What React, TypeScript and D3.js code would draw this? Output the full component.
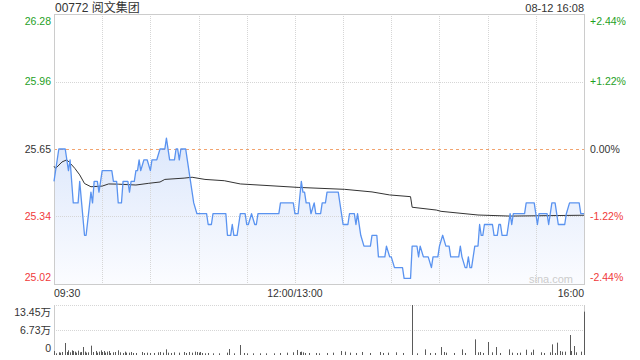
import React from 'react';
import * as d3 from 'd3';

const title = '00772 阅文集团';
const stamp = '08-12 16:08';
const prevClose = 25.65;
const tickPct = [2.44, 1.22, 0, -1.22, -2.44];
const priceTickLabels = ['26.28', '25.96', '25.65', '25.34', '25.02'];
const pctTickLabels = ['+2.44%', '+1.22%', '0.00%', '-1.22%', '-2.44%'];
const timeLabels = ['09:30', '12:00/13:00', '16:00'];
const timeLabelMinutes = [0, 150, 330];
const volTickValues = [13.45, 6.73, 0];
const volTickLabels = ['13.45万', '6.73万', '0'];
const watermark = 'sina.com';

// [trading minute since 09:30, price]
const priceSeries: [number, number][] = [
  [0, 25.5], [3, 25.65], [7, 25.65], [9, 25.55], [10, 25.6], [12, 25.4], [15, 25.4], [16, 25.5],
  [19, 25.25], [20, 25.25], [23, 25.45], [24, 25.4], [25, 25.5], [27, 25.5], [28, 25.45], [29, 25.5],
  [30, 25.55], [36, 25.55], [37, 25.5], [39, 25.5], [40, 25.4], [42, 25.4], [43, 25.5], [46, 25.5],
  [47, 25.45], [48, 25.5], [50, 25.5], [51, 25.55], [52, 25.55], [53, 25.6], [54, 25.55], [56, 25.6],
  [58, 25.6], [60, 25.55], [61, 25.6], [64, 25.6], [66, 25.65], [69, 25.65], [70, 25.7], [72, 25.6],
  [75, 25.6], [76, 25.65], [77, 25.65], [78, 25.6], [79, 25.65], [82, 25.65], [83, 25.6], [85, 25.5],
  [87, 25.4], [89, 25.35], [95, 25.35], [96, 25.3], [98, 25.3], [99, 25.35], [107, 25.35], [108, 25.25],
  [110, 25.25], [111, 25.3], [112, 25.25], [114, 25.25], [115, 25.3], [116, 25.35], [119, 25.35], [120, 25.3],
  [121, 25.3], [123, 25.35], [125, 25.3], [126, 25.3], [127, 25.35], [140, 25.35], [141, 25.4], [149, 25.4],
  [150, 25.35], [152, 25.35], [154, 25.5], [155, 25.45], [156, 25.45], [157, 25.4], [159, 25.4], [160, 25.35],
  [162, 25.4], [163, 25.35], [166, 25.35], [167, 25.4], [169, 25.4], [170, 25.45], [177, 25.45], [179, 25.35],
  [180, 25.3], [183, 25.3], [184, 25.35], [187, 25.35], [188, 25.3], [189, 25.35], [191, 25.25], [193, 25.2],
  [197, 25.2], [198, 25.25], [201, 25.25], [202, 25.15], [206, 25.15], [207, 25.2], [209, 25.15], [210, 25.15],
  [212, 25.1], [217, 25.1], [218, 25.05], [222, 25.05], [223, 25.2], [226, 25.2], [227, 25.15], [228, 25.2],
  [230, 25.15], [233, 25.15], [235, 25.1], [236, 25.15], [239, 25.15], [240, 25.2], [242, 25.25], [244, 25.2],
  [246, 25.2], [247, 25.15], [252, 25.15], [253, 25.2], [254, 25.15], [256, 25.1], [257, 25.1], [258, 25.15],
  [259, 25.1], [260, 25.1], [262, 25.2], [264, 25.2], [265, 25.3], [266, 25.25], [267, 25.25], [268, 25.3],
  [273, 25.3], [274, 25.25], [276, 25.25], [277, 25.3], [278, 25.3], [279, 25.25], [282, 25.25], [283, 25.3],
  [284, 25.35], [285, 25.3], [286, 25.35], [293, 25.35], [294, 25.4], [299, 25.4], [300, 25.35], [301, 25.3],
  [302, 25.35], [307, 25.35], [308, 25.3], [310, 25.4], [312, 25.4], [313, 25.35], [314, 25.3], [318, 25.3],
  [319, 25.35], [321, 25.4], [327, 25.4], [328, 25.35], [330, 25.35],
];

// [minute, average price]
const avgSeries: [number, number][] = [
  [0, 25.57], [1, 25.56], [5, 25.59], [8, 25.6], [10, 25.585], [13, 25.56], [16, 25.53], [19, 25.49],
  [23, 25.475], [30, 25.478], [34, 25.488], [40, 25.487], [51, 25.483], [59, 25.491], [66, 25.497],
  [69, 25.509], [81, 25.515], [86, 25.519], [94, 25.509], [106, 25.503], [116, 25.488], [132, 25.481],
  [152, 25.472], [181, 25.463], [198, 25.451], [209, 25.437], [222, 25.429], [223, 25.38], [238, 25.367],
  [241, 25.361], [264, 25.344], [284, 25.339], [330, 25.343],
];

// [minute, volume in 万]
const volumeSeries: [number, number][] = [
  [0, 1.08], [1, 0.45], [3, 0.72], [4, 0.63], [5, 0.81], [7, 3.23], [8, 0.81], [9, 1.26], [10, 0.72],
  [11, 1.26], [12, 1.08], [13, 0.9], [14, 0.63], [15, 1.17], [16, 0.72], [17, 0.81], [18, 2.15], [19, 0.9],
  [20, 0.63], [21, 0.72], [23, 2.51], [24, 0.81], [26, 1.08], [27, 0.63], [28, 0.9], [29, 1.26], [30, 0.81],
  [31, 1.08], [32, 0.63], [33, 0.9], [34, 1.08], [35, 0.54], [37, 0.72], [38, 0.81], [40, 1.26], [41, 0.72],
  [43, 0.54], [44, 0.9], [45, 0.63], [47, 0.63], [48, 0.81], [49, 0.54], [51, 0.54], [55, 0.81], [56, 0.54],
  [58, 0.63], [60, 0.54], [62, 0.54], [65, 0.72], [66, 0.81], [68, 0.63], [70, 1.52], [71, 0.63], [73, 0.54],
  [75, 0.72], [78, 0.63], [81, 0.81], [82, 0.54], [84, 0.81], [86, 0.63], [88, 0.9], [89, 0.81], [90, 0.63],
  [91, 0.81], [92, 0.54], [94, 0.45], [96, 0.54], [99, 0.45], [103, 0.45], [108, 0.63], [109, 1.61],
  [112, 0.45], [116, 2.69], [118, 0.54], [120, 0.45], [124, 0.45], [128, 0.45], [132, 0.45], [137, 0.45],
  [141, 0.54], [145, 0.63], [149, 0.72], [151, 1.35], [153, 0.81], [154, 0.9], [155, 0.72], [156, 0.54],
  [159, 0.54], [163, 0.54], [165, 0.45], [170, 0.54], [174, 0.63], [179, 1.08], [181, 0.9], [184, 0.63],
  [188, 0.54], [192, 0.81], [197, 0.54], [203, 0.81], [205, 0.54], [208, 0.63], [213, 0.72], [217, 0.54],
  [223, 13.45], [226, 0.45], [231, 1.52], [234, 0.54], [237, 0.54], [241, 2.15], [243, 0.81], [244, 0.63],
  [249, 0.54], [254, 1.52], [256, 0.54], [262, 4.21], [264, 0.72], [265, 0.81], [267, 0.54], [270, 3.5],
  [273, 0.72], [275, 2.15], [278, 0.54], [283, 1.52], [285, 0.63], [288, 0.54], [290, 0.63], [294, 1.43],
  [297, 0.72], [298, 1.43], [303, 0.72], [305, 0.54], [309, 0.72], [310, 2.87], [312, 0.54], [313, 3.32],
  [315, 1.08], [316, 0.9], [318, 0.9], [321, 5.38], [322, 1.08], [324, 2.42], [325, 0.72], [328, 0.9],
  [330, 11.66],
];

const W = 640;
const H = 360;
const L = 54;
const R = 584;
const T = 14;
const B = 284;
const VT = 305;
const VB = 355;
const TOTAL_MIN = 330;
const FONT = "'Liberation Sans', Arial, 'Noto Sans CJK SC', sans-serif";
const GREEN = '#1f9f1f';
const RED = '#f03a3a';
const DARK = '#333333';
const GRID = '#d6d6d6';

const crisp = (v: number) => Math.round(v) + 0.5;

export default function App() {
  const x = d3.scaleLinear().domain([0, TOTAL_MIN]).range([L, R]);
  const pctMax = tickPct[0] / 100;
  const y = d3
    .scaleLinear()
    .domain([prevClose * (1 - pctMax), prevClose * (1 + pctMax)])
    .range([B, T]);
  const yv = d3.scaleLinear().domain([0, volTickValues[0]]).range([VB, VT]);

  const line = d3
    .line<[number, number]>()
    .x((d) => x(d[0]))
    .y((d) => y(d[1]));
  const area = d3
    .area<[number, number]>()
    .x((d) => x(d[0]))
    .y0(B)
    .y1((d) => y(d[1]));

  const gridMinutes = d3.range(30, TOTAL_MIN, 30);
  const colorFor = (p: number) => (p > 0 ? GREEN : p < 0 ? RED : DARK);
  const labelY = (i: number, n: number, yy: number) =>
    i === 0 ? yy + 6.7 : i === n - 1 ? yy - 6.7 : yy;

  return (
    <svg
      width={W}
      height={H}
      viewBox={`0 0 ${W} ${H}`}
      style={{ position: 'absolute', left: 0, top: 0, background: '#fff' }}
      fontFamily={FONT}
    >
      <defs>
        <linearGradient id="pf" x1="0" y1="0" x2="0" y2="1" gradientUnits="objectBoundingBox">
          <stop offset="0%" stopColor="#dce7fb" />
          <stop offset="100%" stopColor="#fbfcff" />
        </linearGradient>
      </defs>

      {/* header */}
      <text x={55} y={12} fontSize={12} fill={DARK}>
        {title}
      </text>
      <text x={R} y={12} fontSize={11} fill={DARK} textAnchor="end">
        {stamp}
      </text>

      {/* price area fill */}
      <path d={area(priceSeries) || ''} fill="url(#pf)" stroke="none" />

      {/* vertical grid */}
      {gridMinutes.map((m) => (
        <line
          key={'vg' + m}
          x1={crisp(x(m))}
          x2={crisp(x(m))}
          y1={T}
          y2={B}
          stroke={GRID}
          strokeDasharray="1,1"
        />
      ))}
      {/* horizontal grid */}
      {tickPct.map((p, i) => {
        if (i === 0 || i === tickPct.length - 1) return null;
        const yy = crisp(y(prevClose * (1 + p / 100)));
        return p === 0 ? (
          <line key={'hg' + i} x1={L} x2={R} y1={yy} y2={yy} stroke="#f2a470" strokeDasharray="3,3" />
        ) : (
          <line key={'hg' + i} x1={L} x2={R} y1={yy} y2={yy} stroke={GRID} strokeDasharray="1,1" />
        );
      })}

      {/* borders */}
      <rect x={crisp(L)} y={crisp(T)} width={R - L} height={B - T} fill="none" stroke="#cccccc" />

      {/* avg line */}
      <path d={line(avgSeries) || ''} fill="none" stroke="#333" strokeWidth={1} />
      {/* price line */}
      <path d={line(priceSeries) || ''} fill="none" stroke="#5a93f0" strokeWidth={1.3} strokeLinejoin="round" />

      {/* watermark */}
      <text x={573} y={283} fontSize={11} fill="#cccccc" textAnchor="end">
        {watermark}
      </text>

      {/* price axis labels */}
      {tickPct.map((p, i) => {
        const yy = labelY(i, tickPct.length, y(prevClose * (1 + p / 100)));
        return (
          <g key={'pl' + i}>
            <text x={51} y={yy + 3.8} fontSize={10.5} fill={colorFor(p)} textAnchor="end">
              {priceTickLabels[i]}
            </text>
            <text x={590} y={yy + 3.8} fontSize={10.5} fill={colorFor(p)} textAnchor="start">
              {pctTickLabels[i]}
            </text>
          </g>
        );
      })}

      {/* time labels */}
      {timeLabels.map((t, i) => (
        <text
          key={'tl' + i}
          x={x(timeLabelMinutes[i])}
          y={297}
          fontSize={10.5}
          fill={DARK}
          textAnchor={i === 0 ? 'start' : i === timeLabels.length - 1 ? 'end' : 'middle'}
        >
          {t}
        </text>
      ))}

      {/* volume grid */}
      {volTickValues.slice(0, 2).map((v, i) => (
        <line
          key={'vgl' + i}
          x1={L}
          x2={R}
          y1={crisp(yv(v))}
          y2={crisp(yv(v))}
          stroke={GRID}
          strokeDasharray="1,1"
        />
      ))}
      <line x1={crisp(L)} x2={crisp(L)} y1={VT} y2={VB} stroke="#cccccc" />
      <line x1={crisp(R)} x2={crisp(R)} y1={VT} y2={VB} stroke="#cccccc" />

      {/* volume bars */}
      {volumeSeries.map(([m, v], i) => (
        <line
          key={'vb' + i}
          x1={crisp(x(m))}
          x2={crisp(x(m))}
          y1={yv(0)}
          y2={yv(v)}
          stroke="#5a5a5a"
          strokeWidth={1}
        />
      ))}

      {/* volume labels */}
      {volTickValues.map((v, i) => (
        <text
          key={'vl' + i}
          x={51}
          y={labelY(i, volTickValues.length, yv(v)) + 3.8}
          fontSize={10.5}
          fill={DARK}
          textAnchor="end"
        >
          {volTickLabels[i]}
        </text>
      ))}
    </svg>
  );
}
